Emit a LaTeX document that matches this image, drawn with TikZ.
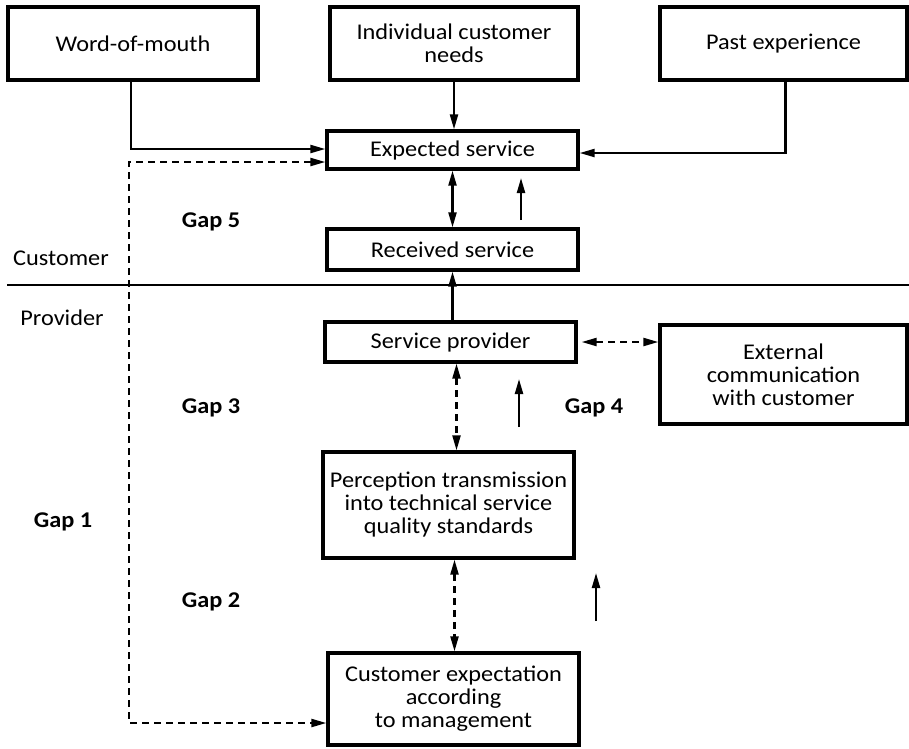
\documentclass[tikz,border=0pt]{standalone}
\usepackage{fontspec}
\setmainfont{Carlito}[FakeStretch=1.08]
\usetikzlibrary{arrows.meta}
\begin{document}
\begin{tikzpicture}[x=1pt,y=-1pt,
  box/.style={draw,line width=3.3pt,align=center,inner sep=0pt,font=\fontsize{22.5}{23}\selectfont},
  lbl/.style={font=\fontsize{22.5}{23}\selectfont,inner sep=0pt},
  gap/.style={font=\fontsize{22.5}{23}\selectfont\bfseries,inner sep=0pt},
  arr/.style={line width=2.2pt,-{Triangle[length=15pt,width=8pt]}},
  darr/.style={line width=2.2pt,{Triangle[length=15pt,width=8pt]}-{Triangle[length=15pt,width=8pt]}},
  dsh/.style={line width=2.2pt,dash pattern=on 7pt off 5pt,{Triangle[length=15pt,width=8pt]}-{Triangle[length=15pt,width=8pt]}}]
\useasboundingbox (0,0) rectangle (909,748);
% boxes
\node[box,minimum width=250pt,minimum height=73pt] (wom) at (133,43.5) {Word-of-mouth};
\node[box,minimum width=248pt,minimum height=73pt] (ind) at (454,43.5) {Individual customer\\needs};
\node[box,minimum width=247pt,minimum height=73pt] (past) at (783.5,43.5) {Past experience};
\node[box,minimum width=251pt,minimum height=38pt] (exp) at (452.5,150) {Expected service};
\node[box,minimum width=251pt,minimum height=41pt] (rec) at (452.5,249.5) {Received service};
\node[box,minimum width=251pt,minimum height=40pt] (sp) at (450.5,342) {Service provider};
\node[box,minimum width=247pt,minimum height=99pt] (ext) at (783.5,374.5) {External\\communication\\with customer};
\node[box,minimum width=251pt,minimum height=106pt] (perc) at (448.5,505) {Perception transmission\\into technical service\\quality standards};
\node[box,minimum width=251pt,minimum height=92pt] (cem) at (453.5,699) {Customer expectation\\according\\to management};
% labels
\node[lbl] (cust) at (61,258) {Customer};
\node[lbl] (prov) at (62,318) {Provider};
\node[gap] (g5) at (211,222) {Gap 5};
\node[gap] (g3) at (211,408) {Gap 3};
\node[gap] (g4) at (594,408) {Gap 4};
\node[gap] (g2) at (211,602) {Gap 2};
\node[gap] (g1) at (63,522) {Gap 1};
% divider
\coordinate (hl) at (7,285);
\coordinate (hr) at (909,285);
\draw[line width=2.2pt] (hl) -- (hr);
% connectors
\draw[arr] ([xshift=-2pt]wom.south) |- ([yshift=1pt]exp.west);
\draw[arr] ([xshift=2pt]past.south) |- ([yshift=-3pt]exp.east);
\draw[arr] (ind.south) -- (ind.south |- exp.north);
\coordinate (dl) at (129,400);
\draw[dsh] ([yshift=-12pt]exp.west) -| (dl) |- ([yshift=-24pt]cem.west);
\draw[darr] (exp.south) -- (rec.north);
\coordinate (u1a) at (521,220); \coordinate (u1b) at (521,178);
\draw[arr] (u1a) -- (u1b);
\draw[arr] ([xshift=2pt]sp.north) -- ([xshift=2pt]sp.north |- rec.south);
\draw[dsh] ([xshift=4pt]sp.east) -- (sp.east -| ext.west);
\draw[dsh] ([xshift=6pt]sp.south) -- ([xshift=6pt]sp.south |- perc.north);
\coordinate (u2a) at (519,427); \coordinate (u2b) at (519,379);
\draw[arr] (u2a) -- (u2b);
\draw[dsh] ([xshift=6pt]perc.south) -- ([xshift=6pt]perc.south |- cem.north);
\coordinate (u3a) at (596,621); \coordinate (u3b) at (596,573);
\draw[arr] (u3a) -- (u3b);
\end{tikzpicture}
\end{document}
